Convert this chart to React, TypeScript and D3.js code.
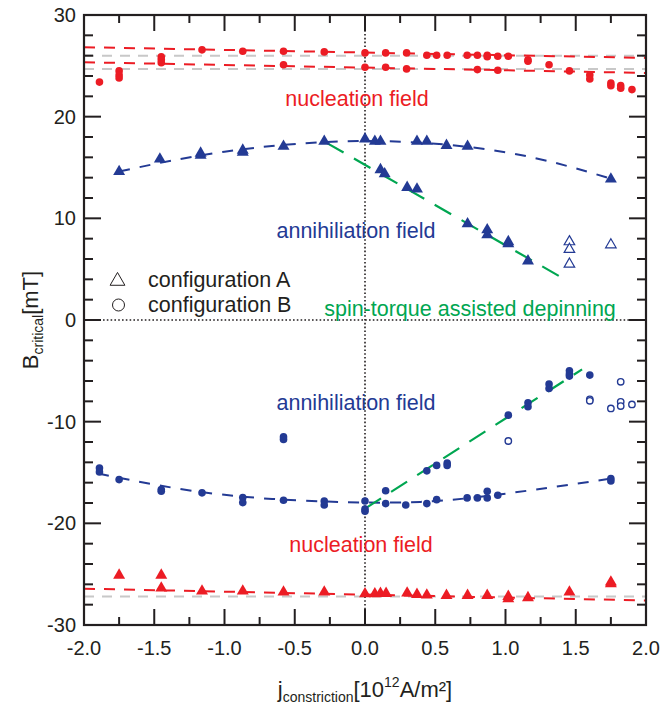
import React from "react";
import * as d3 from "d3";

// ---------- data ----------
const X_TICKS = [-2.0, -1.5, -1.0, -0.5, 0.0, 0.5, 1.0, 1.5, 2.0];
const X_TICK_LABELS = ["-2.0", "-1.5", "-1.0", "-0.5", "0.0", "0.5", "1.0", "1.5", "2.0"];
const Y_TICKS = [-30, -20, -10, 0, 10, 20, 30];
const Y_TICK_LABELS = ["-30", "-20", "-10", "0", "10", "20", "30"];

// configuration B, nucleation (positive field), red filled circles
const nucTopB: [number, number][] = [
  [-1.89, 23.4], [-1.75, 24.5], [-1.75, 24.1], [-1.75, 23.8],
  [-1.45, 25.9], [-1.45, 25.6], [-1.45, 25.3],
  [-1.16, 26.57], [-0.87, 26.43], [-0.58, 26.43], [-0.58, 25.1], [-0.29, 26.37],
  [0, 26.27], [0, 24.86], [0.147, 26.27], [0.147, 24.86], [0.296, 26.27], [0.296, 24.7],
  [0.44, 26.04], [0.51, 26.04], [0.585, 26.04], [0.727, 26.04], [0.8, 26.04], [0.8, 24.63],
  [0.87, 26.04], [0.87, 25.9], [0.945, 25.94], [0.945, 24.57], [1.02, 25.94],
  [1.16, 25.6], [1.16, 25.45], [1.31, 25.1], [1.455, 24.5], [1.6, 24.1], [1.6, 23.7],
  [1.75, 23.3], [1.75, 23.05], [1.82, 23.05], [1.82, 22.8], [1.9, 22.66],
];

// configuration A, annihilation (positive field), blue filled triangles
const annTopA: [number, number][] = [
  [-1.75, 14.6], [-1.46, 15.83], [-1.17, 16.4], [-1.17, 16.2], [-0.87, 16.7], [-0.87, 16.5],
  [-0.58, 17.08], [-0.29, 17.57], [0, 17.8], [0.07, 17.57], [0.11, 17.57], [0.37, 17.57],
  [0.44, 17.57], [0.58, 17.17], [0.73, 17.08], [1.75, 13.86],
  [0.11, 14.78], [0.14, 14.38], [0.3, 13.03], [0.37, 12.87], [0.73, 9.46], [0.87, 8.87],
  [0.87, 8.37], [1.02, 7.7], [1.02, 7.5], [1.16, 5.8],
];
const annTopAOpen: [number, number][] = [
  [1.455, 7.7], [1.455, 6.95], [1.455, 5.5], [1.75, 7.4],
];

// configuration B, annihilation (negative field), blue filled circles
const annBotB: [number, number][] = [
  [-1.89, -14.55], [-1.89, -14.94], [-1.75, -15.7], [-1.45, -16.68], [-1.45, -16.85],
  [-1.16, -17.0], [-0.87, -17.47], [-0.87, -17.96], [-0.58, -17.73], [-0.58, -11.5],
  [-0.58, -11.75], [-0.29, -17.8], [-0.29, -18.2], [0, -17.8], [0, -18.6], [0, -18.8],
  [0.147, -16.8], [0.147, -18.06], [0.29, -18.2], [0.44, -14.84], [0.44, -18.06],
  [0.51, -14.3], [0.51, -17.67], [0.585, -14.06], [0.585, -14.3], [0.727, -17.5],
  [0.8, -17.5], [0.87, -16.85], [0.87, -17.5], [0.945, -17.24], [1.02, -9.36],
  [1.16, -8.15], [1.16, -8.54], [1.31, -6.3], [1.31, -6.73], [1.455, -4.99],
  [1.455, -5.3], [1.455, -5.52], [1.6, -5.42], [1.75, -15.6], [1.75, -15.83],
];
const annBotBOpen: [number, number][] = [
  [1.02, -11.9], [1.6, -7.8], [1.6, -7.95], [1.75, -8.7], [1.82, -6.08],
  [1.82, -8.05], [1.82, -8.47], [1.9, -8.3],
];

// configuration A, nucleation (negative field), red filled triangles
const nucBotA: [number, number][] = [
  [-1.75, -25.1], [-1.45, -25.1], [-1.45, -26.37], [-1.16, -26.67], [-0.87, -26.67],
  [-0.58, -26.77], [-0.29, -26.77], [0, -26.93], [0.07, -26.93], [0.11, -26.9],
  [0.15, -26.9], [0.3, -26.86], [0.37, -27.0], [0.44, -27.06], [0.58, -27.1],
  [0.73, -27.1], [0.87, -27.1], [1.02, -27.2], [1.02, -27.42], [1.16, -27.32],
  [1.455, -26.77], [1.75, -25.78], [1.75, -25.94],
];

// guide lines
const redTopUpper: [number, number][] = [[-2, 26.83], [2, 25.78]];
const redTopLower: [number, number][] = [[-2, 25.35], [2, 24.3]];
const grayTopUpper: [number, number][] = [[-2, 26.0], [2, 26.0]];
const grayTopLower: [number, number][] = [[-2, 24.7], [2, 24.7]];
const redBot: [number, number][] = [[-2, -26.43], [2, -27.59]];
const grayBot: [number, number][] = [[-2, -27.19], [2, -27.19]];
const blueTopCurve: [number, number][] = [[-1.75, 14.6], [-1.0, 16.55], [0, 17.6], [1.0, 16.5], [1.75, 13.9]];
const blueBotCurve: [number, number][] = [[-1.9, -15.1], [-1.0, -17.2], [0, -17.95], [0.75, -17.5], [1.75, -15.6]];
const greenTop: [number, number][] = [[-0.27, 17.4], [1.43, 3.94]];
const greenBot: [number, number][] = [[0, -18.55], [1.545, -4.86]];

// ---------- styling ----------
const W = 663, H = 709;
const L = 84, R = 646, T = 15, B = 625;
const RED = "#ec1c24";
const BLUE = "#233a94";
const GREEN = "#00a651";
const GRAY = "#c8c8c8";
const INK = "#231f20";
const FONT = "'Liberation Sans', Arial, Helvetica, sans-serif";

export default function App() {
  const x = d3.scaleLinear().domain([-2, 2]).range([L, R]);
  const y = d3.scaleLinear().domain([-30, 30]).range([B, T]);
  const line = d3.line<[number, number]>().x((d) => x(d[0])).y((d) => y(d[1]));
  const curve = d3.line<[number, number]>().x((d) => x(d[0])).y((d) => y(d[1])).curve(d3.curveNatural);
  const tri = d3.symbol().type(d3.symbolTriangle).size(62)()!;
  const triOpen = d3.symbol().type(d3.symbolTriangle).size(48)()!;
  const triLegend = d3.symbol().type(d3.symbolTriangle).size(95)()!;

  const xMinor = d3.range(-2, 2.001, 0.25);
  const yMinor = d3.range(-30, 30.001, 2);
  const isMajorX = (v: number) => Math.abs(v * 2 - Math.round(v * 2)) < 1e-6;
  const isMajorY = (v: number) => Math.abs(v / 10 - Math.round(v / 10)) < 1e-6;

  return (
    <svg width={W} height={H} style={{ position: "absolute", left: 0, top: 0, background: "#fff" }} fontFamily={FONT}>
      {/* zero lines */}
      <line x1={x(0)} x2={x(0)} y1={T} y2={B} stroke={INK} strokeWidth={1.6} strokeDasharray="1.6,2.2" />
      <line x1={L} x2={R} y1={y(0)} y2={y(0)} stroke={INK} strokeWidth={1.6} strokeDasharray="1.6,2.2" />

      {/* gray guide lines */}
      {[grayTopUpper, grayTopLower, grayBot].map((d, i) => (
        <path key={"g" + i} d={line(d)!} fill="none" stroke={GRAY} strokeWidth={2} strokeDasharray="10,8" />
      ))}
      {/* red fits */}
      {[redTopUpper, redTopLower, redBot].map((d, i) => (
        <path key={"r" + i} d={line(d)!} fill="none" stroke={RED} strokeWidth={2} strokeDasharray="11,9" />
      ))}
      {/* blue fits */}
      {[blueTopCurve, blueBotCurve].map((d, i) => (
        <path key={"b" + i} d={curve(d)!} fill="none" stroke={BLUE} strokeWidth={2} strokeDasharray="11,10" />
      ))}
      {/* green depinning */}
      {[greenTop, greenBot].map((d, i) => (
        <path key={"gr" + i} d={line(d)!} fill="none" stroke={GREEN} strokeWidth={2.2} strokeDasharray="19,12" />
      ))}

      {/* markers */}
      {nucTopB.map((d, i) => (
        <circle key={"nt" + i} cx={x(d[0])} cy={y(d[1])} r={3.8} fill={RED} />
      ))}
      {annBotB.map((d, i) => (
        <circle key={"ab" + i} cx={x(d[0])} cy={y(d[1])} r={3.8} fill={BLUE} />
      ))}
      {annBotBOpen.map((d, i) => (
        <circle key={"abo" + i} cx={x(d[0])} cy={y(d[1])} r={3.2} fill="#fff" stroke={BLUE} strokeWidth={1.4} />
      ))}
      {annTopA.map((d, i) => (
        <path key={"at" + i} d={tri} transform={`translate(${x(d[0])},${y(d[1])})`} fill={BLUE} />
      ))}
      {annTopAOpen.map((d, i) => (
        <path key={"ato" + i} d={triOpen} transform={`translate(${x(d[0])},${y(d[1])})`} fill="#fff" stroke={BLUE} strokeWidth={1.2} />
      ))}
      {nucBotA.map((d, i) => (
        <path key={"nb" + i} d={tri} transform={`translate(${x(d[0])},${y(d[1])})`} fill={RED} />
      ))}

      {/* annotations */}
      <text x={357} y={106} fontSize={21.5} fill={RED} textAnchor="middle">nucleation field</text>
      <text x={356} y={238} fontSize={21.5} fill={BLUE} textAnchor="middle">annihiliation field</text>
      <text x={470} y={316} fontSize={21.5} fill={GREEN} textAnchor="middle">spin-torque assisted depinning</text>
      <text x={356} y={410} fontSize={21.5} fill={BLUE} textAnchor="middle">annihiliation field</text>
      <text x={361} y={552} fontSize={21.5} fill={RED} textAnchor="middle">nucleation field</text>

      {/* legend */}
      <path d={triLegend} transform="translate(117.5,281)" fill="#fff" stroke={INK} strokeWidth={1} />
      <circle cx={118.5} cy={305} r={6} fill="#fff" stroke={INK} strokeWidth={1} />
      <text x={148} y={287} fontSize={21.5} fill={INK}>configuration A</text>
      <text x={148} y={312} fontSize={21.5} fill={INK}>configuration B</text>

      {/* ticks */}
      {xMinor.map((v, i) => {
        const len = isMajorX(v) ? 16 : 8;
        return (
          <g key={"xt" + i} stroke={INK} strokeWidth={2}>
            <line x1={x(v)} x2={x(v)} y1={B} y2={B - len} />
            <line x1={x(v)} x2={x(v)} y1={T} y2={T + len} />
          </g>
        );
      })}
      {yMinor.map((v, i) => {
        const len = isMajorY(v) ? 17 : 9;
        return (
          <g key={"yt" + i} stroke={INK} strokeWidth={2}>
            <line x1={L} x2={L + len} y1={y(v)} y2={y(v)} />
            <line x1={R} x2={R - len} y1={y(v)} y2={y(v)} />
          </g>
        );
      })}

      {/* frame */}
      <rect x={L} y={T} width={R - L} height={B - T} fill="none" stroke={INK} strokeWidth={2.2} />

      {/* tick labels */}
      {X_TICKS.map((v, i) => (
        <text key={"xl" + i} x={x(v)} y={655} fontSize={20} fill={INK} textAnchor="middle">{X_TICK_LABELS[i]}</text>
      ))}
      {Y_TICKS.map((v, i) => (
        <text key={"yl" + i} x={76} y={y(v) + 7} fontSize={20} fill={INK} textAnchor="end">{Y_TICK_LABELS[i]}</text>
      ))}

      {/* axis titles */}
      <text x={365} y={697} fontSize={22} fill={INK} textAnchor="middle">
        j<tspan fontSize={14} dy={5}>constriction</tspan>
        <tspan dy={-5}>[10</tspan>
        <tspan fontSize={14} dy={-10}>12</tspan>
        <tspan dy={10}>A/m²]</tspan>
      </text>
      <text transform="translate(38,320) rotate(-90)" fontSize={22} fill={INK} textAnchor="middle">
        B<tspan fontSize={14} dy={5}>critical</tspan>
        <tspan dy={-5}>[mT]</tspan>
      </text>
    </svg>
  );
}
